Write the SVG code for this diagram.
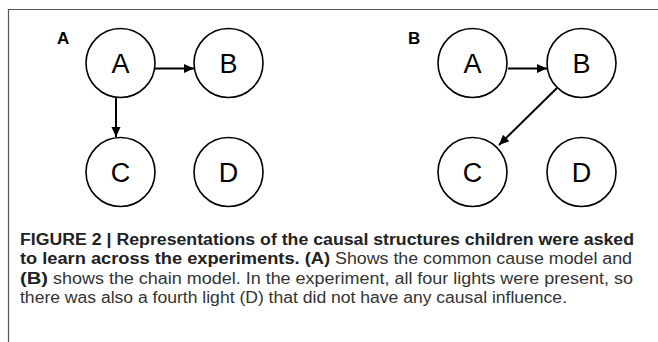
<svg xmlns="http://www.w3.org/2000/svg" width="658" height="342" viewBox="0 0 658 342">
<style>
.frame{fill:none;stroke:#555;stroke-width:1.2}
.node circle{fill:#fff;stroke:#000;stroke-width:1.6}
.node text{font-family:"Liberation Sans",Arial,sans-serif;font-size:27px;fill:#000;text-anchor:middle}
.edge{stroke:#000;stroke-width:2;fill:none;marker-end:url(#ah)}
.plabel{font-family:"Liberation Sans",Arial,sans-serif;font-size:17px;font-weight:bold;fill:#000}
.cap{font-family:"Liberation Sans",Arial,sans-serif;font-size:16px;fill:#333}
.capb{font-family:"Liberation Sans",Arial,sans-serif;font-size:16px;font-weight:bold;fill:#222}
</style>
<defs>
<marker id="ah" markerWidth="11" markerHeight="10" refX="10" refY="5" orient="auto" markerUnits="userSpaceOnUse">
<path d="M0,0.5 L10,5 L0,9.5 Z" fill="#000"/>
</marker>
</defs>
<rect width="658" height="342" fill="#fff"/>
<path class="frame" d="M8.5,342 L8.5,9.5 L658,9.5"/>
<text class="plabel" x="57" y="44">A</text>
<text class="plabel" x="408" y="44">B</text>
<g id="connectors">
<line class="edge" x1="155" y1="68.5" x2="194" y2="68.5"/>
<line class="edge" x1="116" y1="98" x2="116" y2="137"/>
<line class="edge" x1="508" y1="68.5" x2="547" y2="68.5"/>
<line class="edge" x1="557" y1="88" x2="499" y2="145"/>
</g>
<g id="pA-A" class="node"><circle cx="120.5" cy="63" r="34.5"/><text x="120.5" y="72.5">A</text></g>
<g id="pA-B" class="node"><circle cx="228.5" cy="63" r="34.5"/><text x="228.5" y="72.5">B</text></g>
<g id="pA-C" class="node"><circle cx="120.5" cy="172" r="34.5"/><text x="120.5" y="181.5">C</text></g>
<g id="pA-D" class="node"><circle cx="228.5" cy="172" r="34.5"/><text x="228.5" y="181.5">D</text></g>
<g id="pB-A" class="node"><circle cx="472.5" cy="63" r="34.5"/><text x="472.5" y="72.5">A</text></g>
<g id="pB-B" class="node"><circle cx="581.5" cy="63" r="34.5"/><text x="581.5" y="72.5">B</text></g>
<g id="pB-C" class="node"><circle cx="472.5" cy="172" r="34.5"/><text x="472.5" y="181.5">C</text></g>
<g id="pB-D" class="node"><circle cx="581.5" cy="172" r="34.5"/><text x="581.5" y="181.5">D</text></g>
<g id="caption">
<text class="capb" x="20" y="244.5" textLength="614" lengthAdjust="spacingAndGlyphs">FIGURE 2 | Representations of the causal structures children were asked</text>
<text class="capb" x="20" y="264" textLength="310" lengthAdjust="spacingAndGlyphs">to learn across the experiments. (A)</text>
<text class="cap" x="335" y="264" textLength="297" lengthAdjust="spacingAndGlyphs">Shows the common cause model and</text>
<text class="capb" x="20" y="283.5" textLength="28" lengthAdjust="spacingAndGlyphs">(B)</text>
<text class="cap" x="53" y="283.5" textLength="580" lengthAdjust="spacingAndGlyphs">shows the chain model. In the experiment, all four lights were present, so</text>
<text class="cap" x="20" y="303" textLength="547" lengthAdjust="spacingAndGlyphs">there was also a fourth light (D) that did not have any causal influence.</text>
</g>
</svg>
